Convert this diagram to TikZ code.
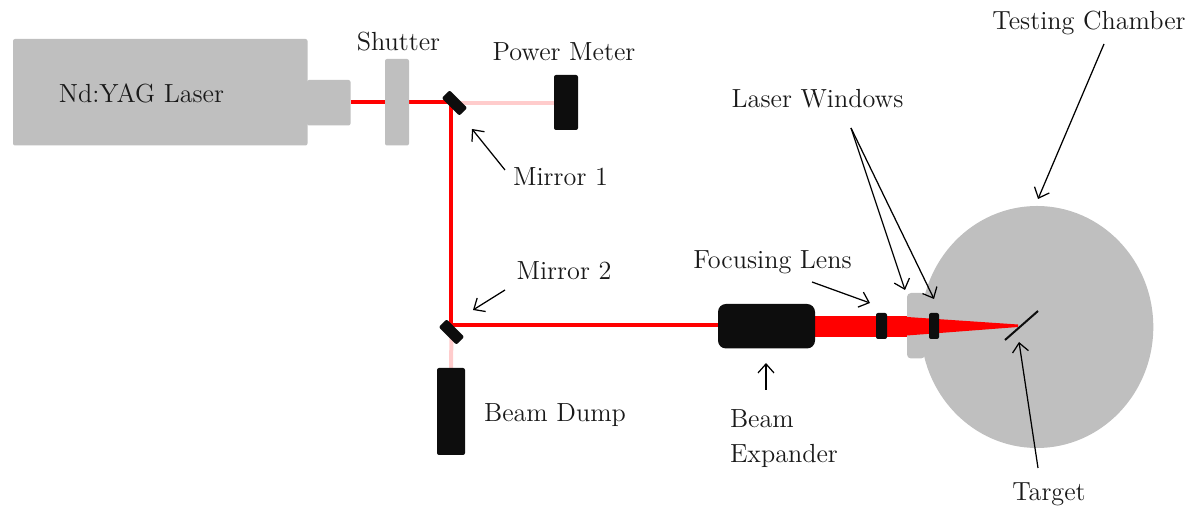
\documentclass[tikz,border=0pt]{standalone}
\usetikzlibrary{arrows.meta,shapes.geometric}
\definecolor{panelgray}{HTML}{BFBFBF}
\definecolor{nearblack}{HTML}{0D0D0D}
\definecolor{palered}{HTML}{FFCCCC}
\pgfdeclarelayer{chamberlayer}
\pgfdeclarelayer{beamlayer}
\pgfsetlayers{chamberlayer,beamlayer,main}
\tikzset{
  box/.style={inner sep=0pt,outer sep=0pt,rounded corners=1pt},
  graybox/.style={box,fill=panelgray},
  darkbox/.style={box,fill=nearblack},
  beam/.style={draw=red,line width=2pt},
  dimbeam/.style={draw=palered,line width=2pt},
  pointer/.style={draw=black,line width=0.62pt,-{Straight Barb[length=4.5pt,width=8pt,line width=0.62pt]}},
  lbl/.style={inner sep=0pt,outer sep=0pt,text=black!90,font=\fontsize{13.1}{17.2}\selectfont},
}
\newcommand{\pxbox}[7]{\node[#1,minimum width=#5*0.5pt-#3*0.5pt,minimum height=#6*0.5pt-#4*0.5pt,anchor=north west,#7] (#2) at (#3,#4) {};}
\begin{document}
\begin{tikzpicture}[x=0.5pt,y=-0.5pt]
\useasboundingbox (0,0) rectangle (1189,506);
% nodes
\pxbox{graybox}{laser}{13}{39}{307.5}{145.5}{}
\pxbox{graybox}{head}{307}{80}{350.5}{125.5}{}
\pxbox{graybox}{shutter}{385}{59}{409}{145.5}{}
\pxbox{darkbox}{meter}{554}{75}{578}{130}{}
\pxbox{darkbox}{dump}{437}{368}{465}{455}{}
\pxbox{darkbox}{expander}{718}{304}{815}{348.5}{rounded corners=4pt}
\pxbox{darkbox}{lensA}{876}{313}{887}{339}{}
\pxbox{darkbox}{lensB}{929}{313}{939}{339}{}
\node[darkbox,minimum width=12.5pt,minimum height=5.6pt,rotate=-45] (mirrorA) at (454.5,103) {};
\node[darkbox,minimum width=12.5pt,minimum height=5.6pt,rotate=-45] (mirrorB) at (451.5,332) {};
\begin{pgfonlayer}{chamberlayer}
\node[ellipse,fill=panelgray,inner sep=0pt,outer sep=0pt,minimum width=116.3pt,minimum height=121pt] (chamber) at (1037,327) {};
\pxbox{graybox}{port}{907}{293}{925}{358.5}{rounded corners=2pt}
\end{pgfonlayer}
\coordinate (turnA) at (451,102);
\coordinate (turnB) at (451,325.5);
\coordinate (focusA) at (1018,324.5);
\coordinate (focusB) at (1018,327);
\coordinate (coneTop) at (907,317);
\coordinate (coneBot) at (907,335.5);
\coordinate (thickTop) at (907,316);
\coordinate (thickBot) at (907,337);
% beams
\begin{pgfonlayer}{beamlayer}
\draw[dimbeam] (mirrorA.center) -- (mirrorA.center -| meter.west);
\draw[dimbeam] (mirrorB.center) -- (turnB |- dump.north);
\draw[beam] (head.east |- turnA) -- (turnA) -- (turnB) -- (expander.west |- turnB);
\fill[red] (expander.east |- thickTop) -- (thickTop) -- (thickBot) -- (expander.east |- thickBot) -- cycle;
\fill[red] (coneTop) -- (focusA) -- (focusB) -- (coneBot) -- cycle;
\end{pgfonlayer}
% target
\coordinate (targetA) at (1005,340);
\coordinate (targetB) at (1038,311);
\draw[line width=1pt,draw=nearblack] (targetA) -- (targetB);
% labels
\node[lbl] (tLaser) at (141.5,93.5) {Nd:YAG Laser};
\node[lbl] (tShutter) at (398.5,42) {Shutter};
\node[lbl] (tMeter) at (564,52) {Power Meter};
\node[lbl] (tMirrorA) at (560.5,176.5) {Mirror 1};
\node[lbl] (tMirrorB) at (564,271) {Mirror 2};
\node[lbl] (tDump) at (555,415) {Beam Dump};
\node[lbl] (tWindows) at (817.5,99) {Laser Windows};
\node[lbl] (tLens) at (772.5,262.5) {Focusing Lens};
\node[lbl,align=left,anchor=north west] (tExp) at (730,410) {Beam\\Expander};
\node[lbl] (tTarget) at (1049,494) {Target};
\node[lbl] (tChamber) at (1089,22.5) {Testing Chamber};
% pointers
\coordinate (a1s) at (505,170); \coordinate (a1e) at (472,129);
\coordinate (a2s) at (505,290); \coordinate (a2e) at (473,310);
\coordinate (a3s) at (851,128); \coordinate (a3e) at (905,290); \coordinate (a4e) at (934,299);
\coordinate (a5s) at (1104,44); \coordinate (a5e) at (1038,199);
\coordinate (a6s) at (812,282); \coordinate (a6e) at (870,303);
\coordinate (a7s) at (766,390); \coordinate (a7e) at (766,363);
\coordinate (a8s) at (1038,468); \coordinate (a8e) at (1019,342);
\draw[pointer] (a1s) -- (a1e);
\draw[pointer] (a2s) -- (a2e);
\draw[pointer] (a3s) -- (a3e);
\draw[pointer] (a3s) -- (a4e);
\draw[pointer] (a5s) -- (a5e);
\draw[pointer] (a6s) -- (a6e);
\draw[pointer] (a7s) -- (a7e);
\draw[pointer] (a8s) -- (a8e);
\end{tikzpicture}
\end{document}
